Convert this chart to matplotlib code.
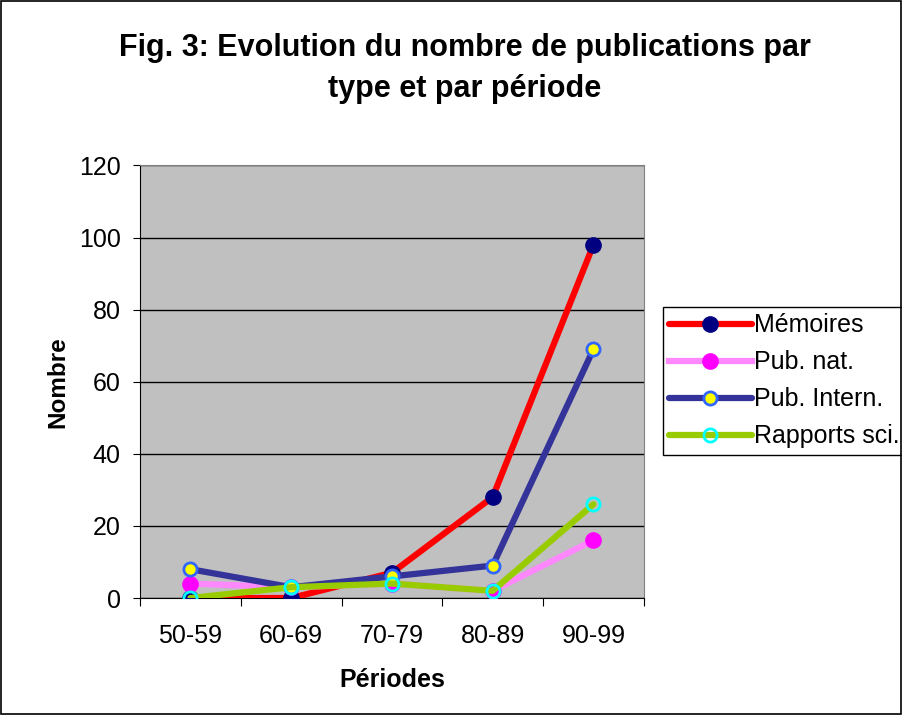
import matplotlib.pyplot as plt
from matplotlib.patches import Rectangle

plt.rcParams['font.family'] = ['Liberation Sans', 'DejaVu Sans']

# Data
periods = ["50-59", "60-69", "70-79", "80-89", "90-99"]
memoires = [0, 0, 7, 28, 98]
pub_nat = [4, 3, 4, 2, 16]
pub_intern = [8, 3, 6, 9, 69]
rapports = [0, 3, 4, 2, 26]

x = [i + 0.5 for i in range(len(periods))]

fig = plt.figure(figsize=(9.03, 7.15), dpi=100)
fig.patches.append(Rectangle((0.001, 0.001), 0.997, 0.997, transform=fig.transFigure,
                             fill=False, edgecolor="black", linewidth=1.2))

ax = fig.add_axes([0.155, 0.1636, 0.558, 0.605])
ax.set_facecolor("#c0c0c0")

ax.plot(x, memoires, color="red", linewidth=4.5, marker="o", markersize=11,
        markerfacecolor="#000080", markeredgecolor="#000080", label="Mémoires",
        solid_capstyle="round", zorder=3)
ax.plot(x, pub_nat, color="#ff88ff", linewidth=4.5, marker="o", markersize=11,
        markerfacecolor="#ff00ff", markeredgecolor="#ff00ff", label="Pub. nat.", zorder=3)
ax.plot(x, pub_intern, color="#333399", linewidth=4.5, marker="o", markersize=9.5,
        markerfacecolor="#ffff00", markeredgecolor="#3366ff", markeredgewidth=2,
        label="Pub. Intern.", solid_capstyle="round", zorder=4)
ax.plot(x, rapports, color="#99cc00", linewidth=4.5, marker="o", markersize=9.5,
        markerfacecolor="none", markeredgecolor="#00ffff", markeredgewidth=2,
        label="Rapports sci.", solid_capstyle="round", zorder=5)

ax.set_xlim(0, 5)
ax.set_ylim(0, 120)
ax.set_yticks(range(0, 121, 20))
ax.set_xticks(range(0, 6))
ax.set_xticklabels([])
ax.set_xticks(x, minor=True)
ax.set_xticklabels(periods, minor=True)
ax.tick_params(axis="x", which="minor", length=0, pad=19, labelsize=18)
ax.tick_params(axis="x", which="major", length=5.5, direction="out", color="black")
ax.tick_params(axis="y", length=5, direction="out", labelsize=18, pad=9)
ax.yaxis.grid(True, color="black", linewidth=1)
ax.set_axisbelow(True)

for side in ["top", "right"]:
    ax.spines[side].set_color("#808080")
for side in ["left", "bottom"]:
    ax.spines[side].set_color("black")

ax.set_xlabel("Périodes", fontsize=18, fontweight="bold", labelpad=14)
ax.set_ylabel("Nombre", fontsize=17.5, fontweight="bold", labelpad=7)

fig.text(0.515, 0.904, "Fig. 3: Evolution du nombre de publications par\ntype et par période",
         ha="center", va="center", fontsize=22, fontweight="bold", linespacing=1.48)

leg = ax.legend(loc="upper left", bbox_to_anchor=(0.7342, 0.5706),
                bbox_transform=fig.transFigure, fontsize=18, frameon=True,
                fancybox=False, edgecolor="black", framealpha=1,
                handlelength=3.3, handletextpad=0.08, borderpad=0.25,
                labelspacing=0.52, borderaxespad=0)
leg.get_frame().set_linewidth(1)

plt.savefig("out.png", dpi=100)
